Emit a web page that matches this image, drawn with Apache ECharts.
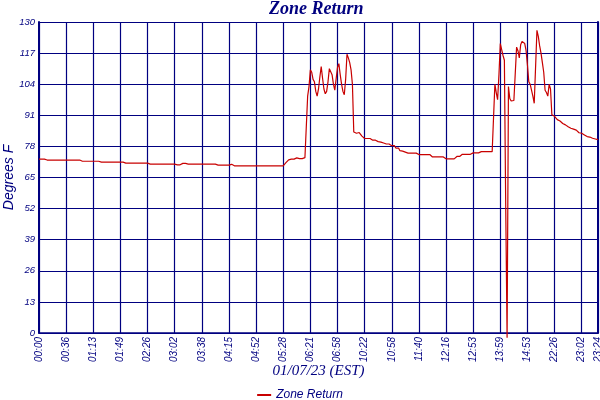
<!DOCTYPE html>
<html>
<head>
<meta charset="utf-8">
<script src="https://cdn.jsdelivr.net/npm/echarts@6/dist/echarts.min.js"></script>
<style>
html,body{margin:0;padding:0;background:#fff;}
#chart{width:600px;height:400px;}
</style>
</head>
<body>
<div id="chart"></div>
<script>
// Tick labels shown on the time axis (every 20th sample, plus the final sample)
var tickLabels = ["00:00","00:36","01:13","01:49","02:26","03:02","03:38","04:15","04:52","05:28",
  "06:21","06:58","10:22","10:58","11:40","12:16","12:53","13:59","14:53","22:26","23:02"];
var lastLabel = "23:24";
var labelStep = 20;

// Y axis ticks
var yMin = 0, yMax = 130, yStep = 13;

// Zone Return temperature samples (Degrees F)
var zoneReturn = [
  72.7,72.7,72.7,72.7,72.7,72.7,
  72.3,72.3,72.3,72.3,72.3,
  72.6,
  72.3,72.3,72.3,72.3,72.3,72.3,72.3,72.3,72.3,72.3,
  72.3,72.3,72.3,72.3,72.3,72.3,72.3,72.3,72.3,72.3,
  71.8,71.8,71.8,71.8,71.8,71.8,71.8,71.8,71.8,71.8,
  71.8,71.8,71.8,
  71.4,71.4,71.4,71.4,71.4,71.4,71.4,71.4,71.4,71.4,
  71.4,71.4,71.4,71.4,71.4,71.4,71.4,71.4,
  71.0,71.0,71.0,71.0,71.0,71.0,71.0,71.0,71.0,71.0,
  71.0,71.0,71.0,71.0,71.0,71.0,71.0,71.0,
  70.6,70.6,70.6,70.6,70.6,70.6,70.6,70.6,70.6,70.6,
  70.6,70.6,70.6,70.6,70.6,70.6,70.6,70.6,70.6,70.6,
  70.3,70.3,70.3,70.3,
  70.9,70.9,70.9,70.9,70.9,
  70.6,70.6,70.6,70.6,70.6,70.6,70.6,70.6,70.6,70.6,
  70.6,70.6,70.6,70.6,70.6,70.6,70.6,70.6,70.6,70.6,
  70.6,70.6,
  70.2,70.2,70.2,70.2,70.2,70.2,70.2,70.2,70.2,70.2,
  70.5,
  69.9,69.9,69.9,69.9,69.9,69.9,69.9,69.9,69.9,69.9,
  69.9,69.9,69.9,69.9,69.9,69.9,69.9,69.9,69.9,69.9,
  69.9,69.9,69.9,69.9,69.9,69.9,69.9,69.9,69.9,69.9,
  69.9,69.9,69.9,69.9,69.9,69.9,69.9,69.9,
  70.5,71.2,72.0,72.4,
  72.7,72.7,72.7,72.7,72.7,
  73.2,
  72.9,72.9,72.9,72.9,
  73.3,73.3,73.3,
  99,103,110,109,106,105,101,99,102,107,
  111.4,106.5,102,100,101,105,110.5,111,108,104,
  101.5,101,111,112.6,108,104,101,99.6,106,116.5,
  115,113,110,104,
  84.0,84.0,
  83.5,83.5,
  83.8,
  84.0,
  82.3,82.3,
  81.3,81.3,81.3,81.3,81.3,
  80.6,80.6,80.6,80.6,80.6,
  80.0,79.9,79.8,79.6,79.4,
  79.0,79.0,79.0,79.0,79.0,
  78.3,78.3,78.3,
  77.3,77.3,77.3,
  76.2,76.2,76.0,75.8,75.6,
  75.2,75.2,75.2,75.2,75.2,75.2,75.2,75.2,75.2,
  74.6,74.6,74.6,74.6,74.6,74.6,74.6,74.6,74.6,74.6,
  73.6,73.6,73.6,73.6,73.6,73.6,73.6,73.6,73.6,73.6,
  72.8,72.8,72.8,72.8,72.8,72.8,72.8,
  72.4,
  73.8,73.8,73.8,73.8,
  74.7,74.7,74.7,74.7,74.7,74.7,74.7,74.7,
  75.3,75.3,75.3,75.3,75.3,
  75.8,75.8,75.8,75.8,75.8,75.8,75.8,75.8,75.8,75.8,
  75.8,
  104,100.5,97.5,108,121,118.5,116,114,52,-2,
  103,98,97,96.8,97.2,97.5,119.5,118,115,120.5,
  121.9,122.6,121,118,112,105,104,103.5,99,96,
  95.5,126.5,124,120,117,113,109,101.5,100.5,99,
  104,102,91.2,90.8,90.6,89.9,89.2,88.8,88.6,88.4,
  87.6,87.3,87,86.4,86.2,85.7,85.6,85.5,85.2,84.9,
  84.8,84.4,83.7,83.6,83.5,83,82.8,82.7,82.1,81.9,
  81.9,81.8,81.4,81.2,81.1,80.9,80.8
];

// Category names: tick label at every labelStep-th sample, unique placeholders in between
var categories = [];
for (var i = 0; i < zoneReturn.length; i++) {
  if (i === zoneReturn.length - 1) categories.push(lastLabel);
  else if (i % labelStep === 0) categories.push(tickLabels[i / labelStep]);
  else categories.push(tickLabels[Math.floor(i / labelStep)] + "#" + (i % labelStep));
}
var lastIdx = zoneReturn.length - 1;
function showTick(idx) { return idx % labelStep === 0 || idx === lastIdx; }

var NAVY = '#000080';
var chart = echarts.init(document.getElementById('chart'), null, {renderer: 'canvas'});
chart.setOption({
  animation: false,
  backgroundColor: '#ffffff',
  title: {
    text: 'Zone Return',
    left: 269, top: 0, padding: 0,
    textStyle: {color: NAVY, fontFamily: 'Liberation Serif', fontStyle: 'italic', fontWeight: 'bold', fontSize: 18}
  },
  legend: {
    data: ['Zone Return'],
    left: 'center', top: 384,
    icon: 'rect', itemWidth: 14, itemHeight: 2, itemGap: 5,
    textStyle: {color: NAVY, fontFamily: 'Liberation Sans', fontStyle: 'italic', fontSize: 12}
  },
  grid: {left: 39, right: 2, top: 22, bottom: 67, containLabel: false, outerBoundsMode: 'none'},
  xAxis: {
    type: 'category',
    data: categories,
    boundaryGap: false,
    name: '01/07/23 (EST)',
    nameLocation: 'middle',
    nameGap: 31,
    nameMoveOverlap: false,
    nameTextStyle: {color: NAVY, fontFamily: 'Liberation Serif', fontStyle: 'italic', fontSize: 15},
    axisLine: {lineStyle: {color: NAVY, width: 1.5}},
    axisTick: {show: false},
    axisLabel: {
      interval: function (idx) { return showTick(idx); },
      rotate: 90, margin: 4,
      color: NAVY, fontFamily: 'Liberation Sans', fontStyle: 'italic', fontSize: 10
    },
    splitLine: {
      show: true,
      interval: function (idx) { return showTick(idx); },
      lineStyle: {color: NAVY, width: 1.2}
    }
  },
  yAxis: [{
    type: 'value',
    min: yMin, max: yMax, interval: yStep,
    name: 'Degrees F',
    nameLocation: 'middle',
    nameGap: 23,
    nameMoveOverlap: false,
    nameTextStyle: {color: NAVY, fontFamily: 'Liberation Sans', fontStyle: 'italic', fontSize: 14},
    axisLine: {show: true, lineStyle: {color: NAVY, width: 2}},
    axisTick: {show: false},
    axisLabel: {margin: 4, color: NAVY, fontFamily: 'Liberation Sans', fontStyle: 'italic', fontSize: 9.5},
    splitLine: {show: true, lineStyle: {color: NAVY, width: 1.2}}
  }, {
    type: 'value',
    position: 'right',
    min: yMin, max: yMax, interval: yStep,
    axisLine: {show: true, lineStyle: {color: NAVY, width: 2}},
    axisTick: {show: false},
    axisLabel: {show: false},
    splitLine: {show: false}
  }],
  series: [{
    name: 'Zone Return',
    type: 'line',
    data: zoneReturn,
    yAxisIndex: 0,
    showSymbol: false,
    symbol: 'none',
    clip: false,
    lineStyle: {color: '#c80000', width: 1.2},
    itemStyle: {color: '#c80000'}
  }]
});
</script>
</body>
</html>
